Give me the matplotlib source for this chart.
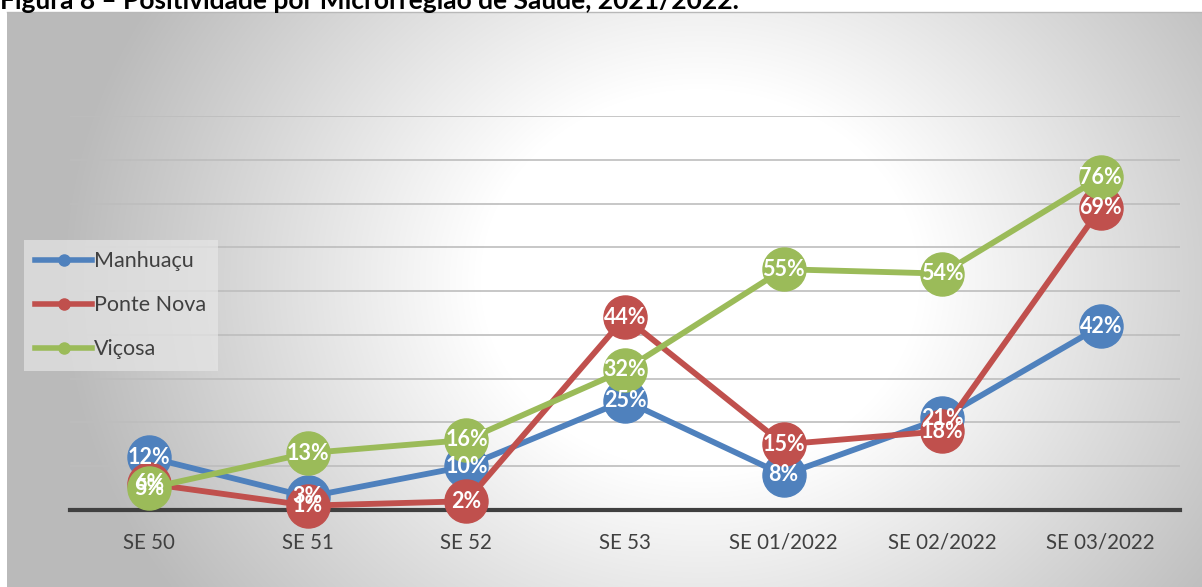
import numpy as np
import matplotlib.pyplot as plt
from matplotlib.lines import Line2D

plt.rcParams['font.family'] = ['Lato', 'DejaVu Sans']

categories = ['SE 50', 'SE 51', 'SE 52', 'SE 53', 'SE 01/2022', 'SE 02/2022', 'SE 03/2022']
manhuacu = [12, 3, 10, 25, 8, 21, 42]
ponte_nova = [6, 1, 2, 44, 15, 18, 69]
vicosa = [5, 13, 16, 32, 55, 54, 76]

series = [('Manhuaçu', manhuacu, '#4f81bd'),
          ('Ponte Nova', ponte_nova, '#c0504d'),
          ('Viçosa', vicosa, '#9bbb59')]

W, H = 1202, 587
fig = plt.figure(figsize=(W / 100, H / 100), dpi=100)

# radial gradient background of the chart area
bg = fig.add_axes([7 / W, 0, 1 - 7 / W, (H - 12) / H])
yy, xx = np.mgrid[12:H, 7:W]
d = np.hypot(xx - 700, (yy - 280) * 1.15)
t = np.clip((d - 220) / 420, 0, 1)
shade = 1 - 0.27 * t
bg.imshow(np.dstack([shade] * 3), aspect='auto', extent=(0, 1, 0, 1))
bg.axis('off')
fig.add_artist(Line2D([7 / W, 1], [(H - 12) / H] * 2, color='#b8b8b8', lw=1))

ax = fig.add_axes([70 / W, (H - 510) / H, 1110 / W, 394 / H])
ax.patch.set_alpha(0)
x = np.arange(len(categories))
ax.set_xlim(-0.5, len(categories) - 0.5)
ax.set_ylim(0, 90)
ax.set_yticks(np.arange(0, 91, 10))
ax.yaxis.grid(True, color='#bdbdbd', lw=1.2)
ax.set_axisbelow(True)
ax.tick_params(axis='y', left=False, labelleft=False)
ax.tick_params(axis='x', bottom=False, labelsize=14.8, labelcolor='#404040', pad=13)
ax.set_xticks(x)
ax.set_xticklabels(categories)
for s in ['top', 'right', 'left']:
    ax.spines[s].set_visible(False)
ax.spines['bottom'].set_color('#404040')
ax.spines['bottom'].set_linewidth(3)

handles = []
for name, vals, col in series:
    ax.plot(x, vals, color=col, lw=4.2, marker='o', ms=31, mec=col, zorder=3, clip_on=False)
    handles.append(Line2D([], [], color=col, lw=4, marker='o', ms=8, label=name))
for name, vals, col in series:
    for xi, v in zip(x, vals):
        ax.text(xi, v, f'{v}%', color='white', fontsize=15.5, fontweight='bold',
                ha='center', va='center', zorder=5)

leg = fig.legend(handles=handles, loc='upper left', bbox_to_anchor=(24 / W, 1 - 240 / H),
                 fontsize=15.5, handlelength=2.65, handletextpad=0.1, labelspacing=1.12,
                 frameon=True, fancybox=False, borderpad=0.52, borderaxespad=0)
leg.get_frame().set_facecolor('#e6e6e6')
leg.get_frame().set_alpha(0.7)
leg.get_frame().set_edgecolor('none')
for txt in leg.get_texts():
    txt.set_color('#404040')

fig.text(0, 1 - 9 / H, 'Figura 8 – Positividade por Microrregião de Saúde, 2021/2022.',
         fontsize=19, fontweight='bold', color='black', ha='left', va='baseline')

fig.savefig('out.png', dpi=100)
